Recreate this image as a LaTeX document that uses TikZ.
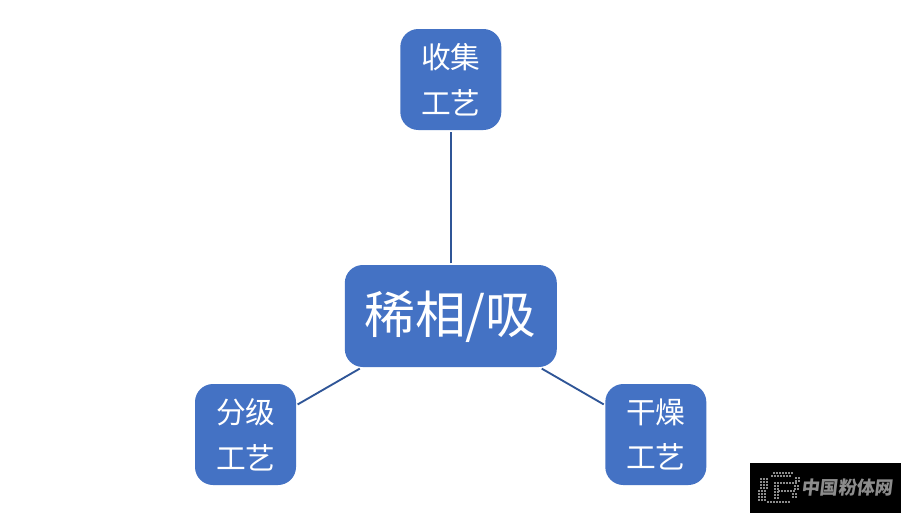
\documentclass[tikz,border=0pt]{standalone}
\usepackage{fontspec}
\setmainfont{Noto Sans CJK SC}
\begin{document}
\begin{tikzpicture}[x=0.75pt,y=-0.75pt,
  box/.style={fill=boxblue,rounded corners=13.5pt,text=white,inner sep=0pt,outer sep=1.2pt,align=center},
  smallbox/.style={box,minimum width=75.75pt,minimum height=75.75pt,font=\fontsize{22.3}{34.2}\selectfont},
  link/.style={draw=linkblue,line width=1.4pt},
  dot/.style={fill=logogray,draw=none}]
\definecolor{boxblue}{HTML}{4472C4}
\definecolor{linkblue}{HTML}{2F5597}
\definecolor{logogray}{HTML}{8C8C8C}
\useasboundingbox (0,0) rectangle (902,514);
\fill[white] (0,0) rectangle (902,514);
\node[box,minimum width=159pt,minimum height=76.5pt] (main) at (450.8,316) {};
\node[text=white,inner sep=0pt,font=\fontsize{38}{40}\selectfont] (maintext) at (450.5,316.8) {稀相/吸};
\node[smallbox] (top) at (450.8,79.5) {收集\\工艺};
\node[smallbox] (left) at (245.5,434.5) {\hspace{0.5pt}分级\\\hspace{0.5pt}工艺};
\node[smallbox] (right) at (655.8,434.5) {干燥\\工艺};
\draw[link] (main) -- (top);
\draw[link] (main) -- (left);
\draw[link] (main) -- (right);
% watermark
\node[fill=black,minimum width=113.25pt,minimum height=37.5pt,inner sep=0pt] (mark) at (825.5,488) {};
\node[text=logogray,font=\fontsize{13.7}{14}\selectfont\bfseries,xslant=0.12,inner sep=0pt] (marktext) at (848,488) {中国粉体网};
% dotted logo
\foreach \x in {773,776,...,791} {\fill[dot] (\x,472) rectangle ++(2.2,2.2); \fill[dot] (\x-2,475) rectangle ++(2.2,2.2);}
\foreach \y in {478,481,...,487} {\foreach \x in {760,763,766} \fill[dot] (\x,\y) rectangle ++(2.2,2.2);}
\foreach \y in {490,493,...,499} {\foreach \x in {758,761,764} \fill[dot] (\x,\y) rectangle ++(2.2,2.2);}
\foreach \x in {767,770,...,788} {\fill[dot] (\x,501) rectangle ++(2.2,2.2);}
\foreach \y in {482,485,...,497} {\foreach \x in {774,777} \fill[dot] (\x,\y) rectangle ++(2.2,2.2);}
\foreach \x in {780,783,...,795} {\fill[dot] (\x,482) rectangle ++(2.2,2.2); \fill[dot] (\x-2,490) rectangle ++(2.2,2.2);}
\foreach \y in {477,480} {\foreach \x in {795,798} \fill[dot] (\x,\y) rectangle ++(2.2,2.2);}
\foreach \y in {485,488} {\foreach \x in {794,797} \fill[dot] (\x,\y) rectangle ++(2.2,2.2);}
\foreach \y in {493,496} {\foreach \x in {792,795} \fill[dot] (\x,\y) rectangle ++(2.2,2.2);}
\end{tikzpicture}
\end{document}
